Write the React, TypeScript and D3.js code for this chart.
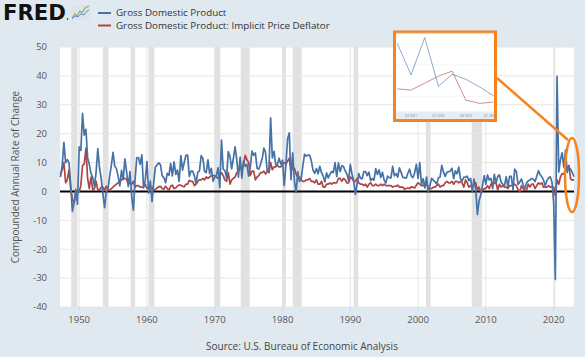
import React from 'react';
import * as d3 from 'd3';

// Quarterly, compounded annual rate of change, 1947 Q2 .. 2023 Q1
const gdp: number[] = [
  5.0, 9.0, 17.0,
  10.0, 11.0, 10.0, 2.4,
  -6.9, -4.0, 0.7, -4.4,
  15.4, 14.2, 27.0, 19.5,
  21.5, 11.6, 9.4, 6.2,
  4.8, 1.8, 6.7, 14.8,
  8.2, 4.6, -0.8, -5.6,
  -0.1, 0.9, 5.1, 9.1,
  13.5, 8.8, 7.9, 5.3,
  1.9, 7.3, 4.1, 11.3,
  6.8, 1.7, 6.9, -1.6,
  -6.5, 4.1, 11.6, 11.7,
  9.4, 12.7, 1.2, 3.9,
  10.3, -0.6, 3.6, -3.5,
  3.2, 8.4, 9.2, 9.9,
  9.2, 5.4, 4.8, 3.0,
  6.3, 5.6, 9.6, 5.4,
  10.2, 5.9, 7.4, 3.5,
  12.4, 7.4, 10.0, 12.5,
  12.6, 5.2, 7.0, 7.0,
  5.4, 2.8, 6.7, 7.1,
  12.4, 11.5, 6.9, 6.5,
  10.9, 6.1, 8.0, 3.6,
  4.9, 5.6, 8.2, 1.3,
  17.8, 7.7, 7.2, 4.7,
  13.8, 12.1, 7.8, 11.4,
  15.4, 11.1, 4.9, 11.9,
  4.6, 10.5, 8.7, 9.4,
  5.3, 8.5, 14.0, 12.5,
  13.3, 8.0, 7.7, 9.4,
  11.3, 15.0, 13.4, 7.0,
  7.8, 25.5, 11.6, 13.9,
  9.2, 9.4, 11.5, 9.5,
  10.8, 2.0, 9.0, 18.2,
  20.3, 4.1, 13.4, 3.7,
  -0.3, 6.8, 3.5, 4.2,
  8.9, 12.9, 12.2, 12.6,
  12.6, 10.6, 7.4, 6.3,
  7.9, 6.1, 8.7, 6.5,
  5.3, 3.3, 6.4, 4.7,
  6.0, 6.9, 6.5, 10.0,
  5.1, 9.9, 6.9, 8.9,
  8.6, 7.1, 6.0, 3.8,
  9.4, 6.0, 3.8, -1.0,
  2.6, 6.2, 4.5, 4.4,
  6.9, 6.9, 5.5, 6.7,
  3.7, 4.5, 3.9, 7.9,
  5.9, 7.5, 4.8, 6.6,
  3.9, 2.9, 5.3, 4.8,
  4.7, 8.7, 5.4, 6.2,
  5.0, 8.2, 6.6, 4.9,
  4.8, 4.6, 6.3, 7.7,
  5.3, 4.8, 6.5, 9.4,
  4.5, 10.0, 2.4, 4.4,
  1.2, 5.0, -0.1, 2.1,
  4.5, 3.9, 3.3, 2.6,
  4.7, 5.0, 9.0, 6.7,
  5.2, 6.6, 6.8, 7.1,
  8.0, 4.4, 7.1, 6.1,
  8.4, 4.4, 3.6, 5.0,
  4.9, 5.3, 3.7, 4.5,
  -0.1, 4.3, 0.9, -8.0,
  -3.1, -1.2, 2.0, 5.5,
  2.5, 5.7, 4.0, 4.5,
  1.0, 5.9, 2.9, 5.2,
  5.7, 3.2, 2.5, 2.0,
  5.1, 1.5, 5.2, 5.2,
  0.6, 7.7, 6.9, 2.4,
  3.3, 4.3, 2.3, 1.1,
  2.9, 3.7, 3.9, 4.5,
  4.2, 3.4, 5.2, 7.2,
  5.8, 5.1, 4.0, 2.0,
  3.7, 4.7, 5.1, 3.3,
  -3.8, -30.5, 39.8, 6.7,
  10.9, 13.4, 8.4, 14.3,
  6.6, 8.5, 7.7, 6.5,
  5.1,
];

const deflator: number[] = [
  5.9, 7.5, 10.0,
  3.0, 4.0, 7.5, 1.0,
  -2.8, -3.9, -1.0, -0.2,
  0.0, 2.0, 9.0, 9.5,
  15.0, 4.5, 1.0, 5.0,
  0.5, 1.0, 3.5, 0.5,
  0.5, 1.5, 1.5, 0.5,
  1.8, 0.5, 0.5, 1.0,
  1.5, 2.0, 2.5, 3.0,
  3.5, 4.0, 4.5, 4.5,
  4.2, 2.5, 3.0, 2.5,
  3.5, 1.5, 2.0, 2.0,
  1.5, 1.5, 1.5, 2.5,
  1.0, 1.5, 1.5, 1.5,
  0.5, 0.8, 1.2, 1.6,
  1.8, 1.0, 0.8, 1.8,
  1.0, 0.5, 1.8, 2.2,
  1.0, 1.2, 1.9, 2.2,
  2.2, 1.8, 1.6, 2.5,
  2.5, 3.8, 3.5, 3.5,
  2.0, 2.5, 3.5, 4.0,
  4.0, 4.5, 4.0, 5.0,
  4.5, 5.0, 5.5, 5.5,
  5.5, 5.0, 4.5, 5.5,
  6.5, 5.5, 4.0, 3.5,
  6.5, 2.5, 4.0, 4.5,
  5.0, 6.5, 7.0, 8.0,
  8.0, 9.5, 12.5, 11.0,
  10.0, 5.5, 7.0, 7.0,
  4.0, 5.0, 5.5, 6.5,
  6.5, 7.0, 6.0, 7.0,
  6.5, 10.0, 7.5, 8.5,
  8.5, 9.0, 8.5, 8.5,
  9.5, 10.0, 9.5, 10.5,
  11.5, 7.0, 8.5, 8.0,
  6.0, 5.0, 5.0, 4.0,
  3.5, 3.5, 4.0, 4.0,
  4.5, 3.5, 3.5, 3.0,
  4.0, 2.5, 2.5, 3.5,
  1.5, 1.5, 2.5, 2.5,
  3.0, 2.5, 3.0, 3.0,
  3.0, 4.5, 4.5, 3.5,
  4.5, 4.0, 3.0, 3.0,
  5.0, 4.5, 3.5, 3.5,
  4.5, 3.0, 2.5, 2.5,
  2.0, 2.5, 1.5, 2.5,
  3.0, 2.0, 2.0, 2.5,
  2.0, 2.0, 2.5, 2.0,
  2.5, 2.0, 2.0, 2.0,
  2.0, 1.5, 1.8, 1.8,
  2.2, 1.5, 1.5, 1.5,
  0.8, 1.0, 1.2, 1.0,
  1.6, 1.4, 1.2, 2.2,
  3.0, 2.5, 2.0, 2.0,
  2.5, 2.5, 1.5, 1.0,
  1.0, 1.5, 1.5, 2.0,
  2.5, 1.5, 2.0, 2.0,
  3.0, 3.5, 3.0, 3.0,
  3.5, 2.5, 3.5, 3.5,
  3.0, 3.5, 3.0, 1.5,
  4.0, 3.0, 1.5, 2.0,
  1.5, 2.0, 3.0, 0.5,
  1.5, -0.5, 0.5, 1.0,
  1.0, 2.0, 1.0, 2.5,
  2.0, 3.0, 3.0, 0.5,
  2.5, 1.5, 2.0, 1.5,
  1.5, 1.0, 2.0, 2.0,
  2.0, 2.5, 2.0, 0.5,
  0.0, 2.0, 1.0, 0.5,
  0.5, 2.5, 1.5, 2.5,
  2.5, 1.0, 2.0, 3.0,
  2.5, 3.0, 1.5, 1.5,
  1.5, 2.0, 1.5, 1.5,
  1.5, -1.5, 4.0, 2.5,
  5.0, 6.2, 6.0, 7.1,
  8.2, 9.0, 4.4, 3.9,
  4.1,
];

const seriesNames = ['Gross Domestic Product', 'Gross Domestic Product: Implicit Price Deflator'];
const yTicks = [50, 40, 30, 20, 10, 0, -10, -20, -30, -40];
const xTickYears = [1950, 1960, 1970, 1980, 1990, 2000, 2010, 2020];
const recessions: [string, string][] = [
  ['1948-11-01', '1949-10-01'], ['1953-07-01', '1954-05-01'], ['1957-08-01', '1958-04-01'],
  ['1960-04-01', '1961-02-01'], ['1969-12-01', '1970-11-01'], ['1973-11-01', '1975-03-01'],
  ['1980-01-01', '1980-07-01'], ['1981-07-01', '1982-11-01'], ['1990-07-01', '1991-03-01'],
  ['2001-03-01', '2001-11-01'], ['2007-12-01', '2009-06-01'], ['2020-02-01', '2020-04-01'],
];
const insetTickLabels = ['Q3 2021', 'Q1 2022', 'Q3 2022', 'Q1 2023'];
const insetTickIndex = [1, 3, 5, 7];
const insetGrid = [5, 10, 15];

const BLUE = '#4572a7';
const RED = '#aa4643';
const ORANGE = '#f7821f';
const FONT = '"Open Sans", "Noto Sans", sans-serif';

export default function App() {
  const W = 585, H = 357;
  const pl = 60, pr = 574, pt = 47, pb = 307;
  const dates = gdp.map((_, i) => new Date(1947, 3 + 3 * i, 1));
  const x = d3.scaleTime().domain([dates[0], dates[dates.length - 1]]).range([60.5, pr]);
  const y = d3.scaleLinear().domain([-40, 50]).range([pb, pt]);
  const line = d3.line<number>().x((_, i) => x(dates[i])).y(d => y(d));

  // inset
  const n = 8;
  const insGdp = gdp.slice(-n);
  const insDef = deflator.slice(-n);
  const ix = d3.scaleLinear().domain([0, n - 1]).range([397.3, 493.3]);
  const iy = d3.scaleLinear().domain([2.5, 15]).range([112.2, 33.2]);
  const iline = d3.line<number>().x((_, i) => ix(i)).y(d => iy(d));

  return (
    <svg width={W} height={H} style={{ position: 'absolute', left: 0, top: 0 }} fontFamily={FONT}>
      <rect x={0} y={0} width={W} height={H} fill="#e1e9f0" />
      <rect x={pl} y={pt} width={pr - pl} height={pb - pt} fill="#ffffff" />
      {recessions.map(([a, b], i) => (
        <rect key={i} x={x(new Date(a))} y={pt} width={x(new Date(b)) - x(new Date(a))} height={pb - pt} fill="#e1e1e1" />
      ))}
      {yTicks.map(t => (
        <line key={'gy' + t} x1={pl} x2={pr} y1={y(t)} y2={y(t)} stroke="#e6e6e6" strokeWidth={1} />
      ))}
      {xTickYears.map(t => (
        <line key={'gx' + t} x1={x(new Date(t, 0, 1))} x2={x(new Date(t, 0, 1))} y1={pt} y2={pb} stroke="#e6e6e6" strokeWidth={1} />
      ))}
      <line x1={pl} x2={pr} y1={y(0)} y2={y(0)} stroke="#000" strokeWidth={2} />
      <path d={line(deflator) || ''} fill="none" stroke={RED} strokeWidth={1.7} strokeLinejoin="round" />
      <path d={line(gdp) || ''} fill="none" stroke={BLUE} strokeWidth={1.7} strokeLinejoin="round" />

      {yTicks.map(t => (
        <text key={'ty' + t} x={47} y={y(t)} dy="0.35em" textAnchor="end" fontSize={9.5} fill="#555">{t}</text>
      ))}
      <text transform={`translate(15,${(pt + pb) / 2}) rotate(-90)`} textAnchor="middle" dy="0.35em" fontSize={10} fill="#555">
        Compounded Annual Rate of Change
      </text>
      {xTickYears.map(t => {
        const xx = x(new Date(t, 0, 1));
        return (
          <g key={'tx' + t}>
            <line x1={xx} x2={xx} y1={pb} y2={pb + 4} stroke="#ccd6eb" strokeWidth={1} />
            <text x={xx} y={320} dy="0.35em" textAnchor="middle" fontSize={9.5} fill="#555">{t}</text>
          </g>
        );
      })}
      <text x={302} y={346} dy="0.35em" textAnchor="middle" fontSize={10} fill="#444">Source: U.S. Bureau of Economic Analysis</text>

      {/* logo */}
      <text x={3} y={20} fontFamily='"DejaVu Sans", sans-serif' fontWeight="bold" fontSize={21} fill="#111" textLength={63} lengthAdjust="spacingAndGlyphs">FRED</text>
      <circle cx={67.5} cy={19} r={0.8} fill="#111" />
      <rect x={71} y={5} width={19} height={15} fill="#dde3ea" />
      <polyline points="72,18 75,14 77,16 80,11 82,13 85,8 89,6" fill="none" stroke="#8cb369" strokeWidth={1.2} />
      <polyline points="72,19 75,16 78,17 81,14 84,15 87,11 89,10" fill="none" stroke="#6d8fbf" strokeWidth={1} />

      {/* legend */}
      <line x1={98} x2={111} y1={13} y2={13} stroke={BLUE} strokeWidth={2} />
      <text x={116} y={13} dy="0.35em" fontSize={9.8} fill="#333">{seriesNames[0]}</text>
      <line x1={98} x2={111} y1={25.5} y2={25.5} stroke={RED} strokeWidth={2} />
      <text x={116} y={25.5} dy="0.35em" fontSize={9.8} fill="#333">{seriesNames[1]}</text>

      {/* connector + ellipse */}
      <line x1={497} y1={78} x2={568} y2={140} stroke={ORANGE} strokeWidth={2.5} />
      <ellipse cx={572} cy={175} rx={7} ry={37} fill="none" stroke={ORANGE} strokeWidth={2.5} />

      {/* inset */}
      <rect x={394.5} y={32} width={101} height={88.5} fill="#ffffff" stroke={ORANGE} strokeWidth={3} />
      <rect x={396} y={111.5} width={98} height={7.5} fill="#e6edf3" />
      {insetGrid.map(g => (
        <line key={'ig' + g} x1={396} x2={494} y1={iy(g)} y2={iy(g)} stroke="#eeeeee" strokeWidth={0.6} />
      ))}
      <path d={iline(insDef) || ''} fill="none" stroke={RED} strokeOpacity={0.6} strokeWidth={1} />
      <path d={iline(insGdp) || ''} fill="none" stroke={BLUE} strokeOpacity={0.6} strokeWidth={1} />
      {insetTickLabels.map((lab, i) => (
        <text key={lab} x={Math.min(ix(insetTickIndex[i]), 490)} y={115.5} dy="0.35em" textAnchor="middle" fontSize={3.2} fill="#888">{lab}</text>
      ))}
    </svg>
  );
}
